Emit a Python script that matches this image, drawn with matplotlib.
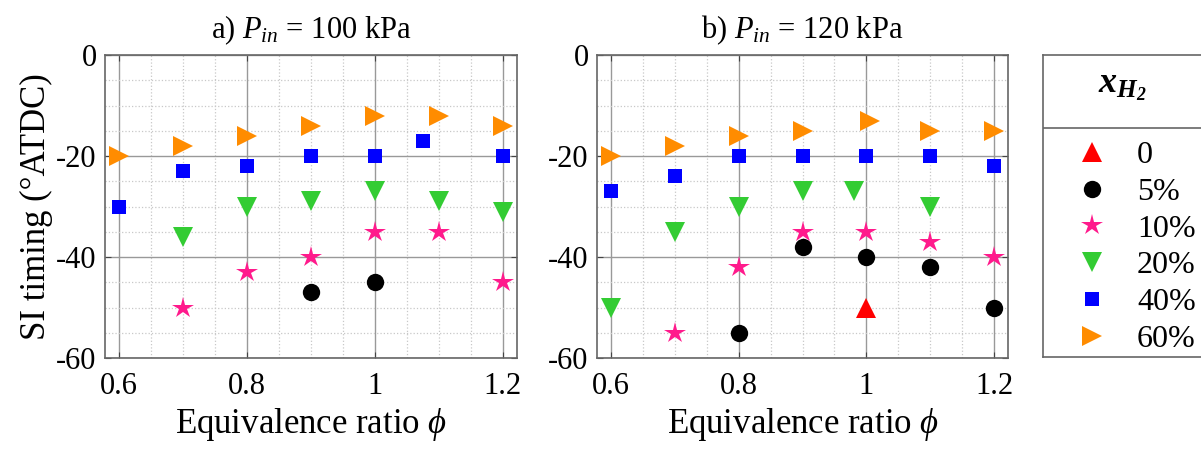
import matplotlib
matplotlib.use("Agg")
import matplotlib.pyplot as plt
from matplotlib.lines import Line2D
from matplotlib.ticker import MultipleLocator

plt.rcParams['font.family'] = ['Liberation Serif', 'DejaVu Serif']
plt.rcParams['mathtext.fontset'] = 'custom'
plt.rcParams['mathtext.rm'] = 'Liberation Serif'
plt.rcParams['mathtext.it'] = 'Liberation Serif:italic'
plt.rcParams['mathtext.bf'] = 'Liberation Serif:italic:bold'
plt.rcParams['axes.unicode_minus'] = False

# series labels / styles
labels = ['0', '5%', '10%', '20%', '40%', '60%']
colors = ['#ff0000', '#000000', '#ff1a8c', '#33cc33', '#0000ff', '#ff8c00']
markers = ['^', 'o', '*', 'v', 's', '>']
msizes = [14.5, 12.5, 16, 14.5, 10.5, 14.5]

# a) P_in = 100 kPa
a_phi = {
    '0':   [],
    '5%':  [0.9, 1.0],
    '10%': [0.7, 0.8, 0.9, 1.0, 1.1, 1.2],
    '20%': [0.7, 0.8, 0.9, 1.0, 1.1, 1.2],
    '40%': [0.6, 0.7, 0.8, 0.9, 1.0, 1.075, 1.2],
    '60%': [0.6, 0.7, 0.8, 0.9, 1.0, 1.1, 1.2],
}
a_si = {
    '0':   [],
    '5%':  [-47, -45],
    '10%': [-50, -43, -40, -35, -35, -45],
    '20%': [-36, -30, -29, -27, -29, -31],
    '40%': [-30, -23, -22, -20, -20, -17, -20],
    '60%': [-20, -18, -16, -14, -12, -12, -14],
}

# b) P_in = 120 kPa
b_phi = {
    '0':   [1.0],
    '5%':  [0.8, 0.9, 1.0, 1.1, 1.2],
    '10%': [0.7, 0.8, 0.9, 1.0, 1.1, 1.2],
    '20%': [0.6, 0.7, 0.8, 0.9, 0.98, 1.1],
    '40%': [0.6, 0.7, 0.8, 0.9, 1.0, 1.1, 1.2],
    '60%': [0.6, 0.7, 0.8, 0.9, 1.005, 1.1, 1.2],
}
b_si = {
    '0':   [-50],
    '5%':  [-55, -38, -40, -42, -50],
    '10%': [-55, -42, -35, -35, -37, -40],
    '20%': [-50, -35, -30, -27, -27, -30],
    '40%': [-27, -24, -20, -20, -20, -20, -22],
    '60%': [-20, -18, -16, -15, -13, -15, -15],
}

W, H = 1201, 450
fig = plt.figure(figsize=(W / 100, H / 100), dpi=100)


def px_axes(x0, y0, x1, y1):
    return fig.add_axes([x0 / W, 1 - y1 / H, (x1 - x0) / W, (y1 - y0) / H])


def panel(ax, phi, si, title, ylabel):
    ax.set_axisbelow(True)
    for lab, c, m, s in zip(labels, colors, markers, msizes):
        ax.plot(phi[lab], si[lab], linestyle='none', marker=m, color=c,
                markersize=s, markeredgewidth=0)
    ax.set_xlim(0.578, 1.222)
    ax.set_ylim(-60, 0)
    ax.set_xticks([0.6, 0.8, 1.0, 1.2])
    ax.set_xticklabels(['0.6', '0.8', '1', '1.2'])
    ax.set_yticks([0, -20, -40, -60])
    ax.xaxis.set_minor_locator(MultipleLocator(0.05))
    ax.yaxis.set_minor_locator(MultipleLocator(5))
    ax.grid(which='major', color='#999999', linewidth=1.0)
    ax.grid(which='minor', color='#c8c8c8', linestyle=':', linewidth=0.9)
    ax.tick_params(which='both', direction='in', top=True, right=True,
                   labelsize=22, color='#444444')
    ax.tick_params(which='minor', length=0)
    ax.tick_params(which='major', length=4)
    ax.tick_params(axis='x', which='major', pad=10)
    ax.tick_params(axis='y', which='major', pad=6)
    for sp in ax.spines.values():
        sp.set_color('#666666')
        sp.set_linewidth(1.2)
    ax.set_title(title, fontsize=22, pad=12)
    ax.set_xlabel(r'Equivalence ratio $\phi$', fontsize=25, labelpad=4)
    if ylabel:
        ax.set_ylabel(ylabel, fontsize=25, labelpad=2)


ax1 = px_axes(105, 55, 517, 358)
panel(ax1, a_phi, a_si, r'a) $P_{in}$ = 100 kPa', 'SI timing (°ATDC)')
ax2 = px_axes(597, 55, 1008, 358)
panel(ax2, b_phi, b_si, r'b) $P_{in}$ = 120 kPa', None)

# legend box
lax = px_axes(1043, 55, 1210, 357)
lax.set_xlim(0, 1)
lax.set_ylim(0, 1)
lax.set_xticks([])
lax.set_yticks([])
for sp in lax.spines.values():
    sp.set_color('#666666')
    sp.set_linewidth(1.2)
lax.axhline(1 - 73 / 302, color='#666666', linewidth=1.2)
lax.text((1123 - 1043) / 167, 1 - 32 / 302, r'$\mathbf{x_{H_2}}$', ha='center',
         va='center', fontsize=26)
handles = [Line2D([], [], linestyle='none', marker=m, color=c, markersize=s,
                  markeredgewidth=0)
           for c, m, s in zip(colors, markers, msizes)]
lax.legend(handles, labels, loc='upper left',
           bbox_to_anchor=((1063 - 1043) / 167, 1 - 73 / 302),
           frameon=False, fontsize=23, handlelength=1.0, handletextpad=0.92,
           labelspacing=0.23, borderaxespad=0)

fig.savefig('out.png', dpi=100)
